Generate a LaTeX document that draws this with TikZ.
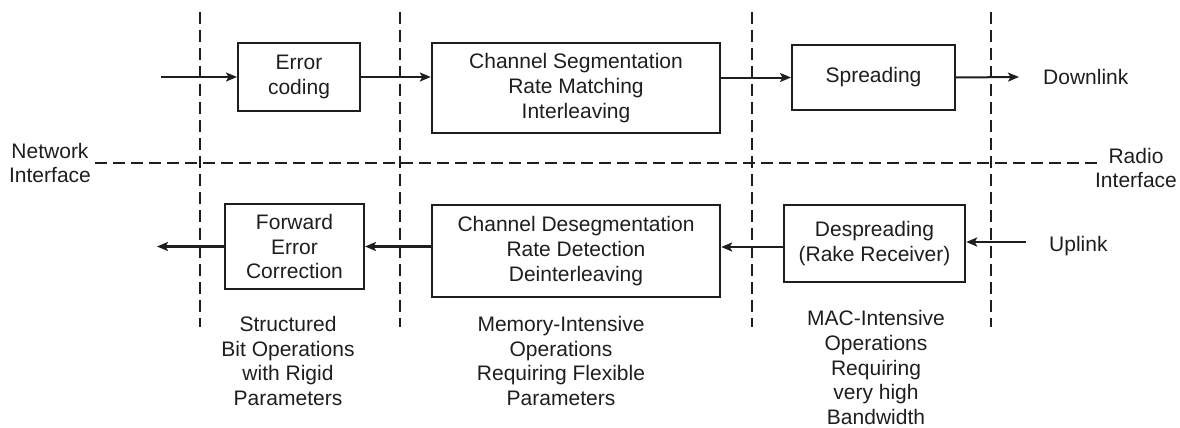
\documentclass[tikz,border=0pt]{standalone}
\usepackage{fontspec}
\setmainfont{Liberation Sans}
\usetikzlibrary{arrows.meta}
\definecolor{ink}{RGB}{30,30,30}
\begin{document}
\begin{tikzpicture}[x=1pt,y=-1pt,
  font=\fontsize{21}{24.6}\selectfont, text=ink,
  blk/.style={draw=ink, line width=2pt, align=center, inner sep=0pt},
  thickblk/.style={blk, line width=2.4pt},
  sep/.style={draw=ink, dash pattern=on 12pt off 6pt, line width=1.8pt},
  flow/.style={draw=ink, -{Stealth[length=11pt,width=9pt,inset=2.5pt]}, line width=2pt},
  flowb/.style={draw=ink, -{Stealth[length=11pt,width=9pt,inset=2.5pt]}, line width=2.6pt},
  lbl/.style={align=center, inner sep=0pt}]
\useasboundingbox (0,0) rectangle (1180,428);

% section separators
\draw[sep] (200,12) -- (200,327);
\draw[sep] (400,12) -- (400,327);
\draw[sep] (752,12) -- (752,327);
\draw[sep] (991,12) -- (991,327);
\draw[sep] (95,163) -- (1097,163);

% downlink chain
\node[blk, minimum width=122pt, minimum height=68pt] (ec) at (299,77) {Error\\coding};
\node[thickblk, minimum width=288pt, minimum height=90pt] (cs) at (576,88) {Channel Segmentation\\Rate Matching\\Interleaving};
\node[blk, minimum width=163pt, minimum height=65pt] (sp) at (873.5,77.5) {Spreading};

% uplink chain
\node[blk, minimum width=139pt, minimum height=85pt] (fec) at (294.5,246.5) {Forward\\Error\\Correction};
\node[thickblk, minimum width=288pt, minimum height=92pt] (ds) at (576,251) {Channel Desegmentation\\Rate Detection\\Deinterleaving};
\node[thickblk, minimum width=181pt, minimum height=77pt] (dsp) at (874.5,243.5) {Despreading\\(Rake Receiver)};

% free ends of the signal paths
\coordinate (din) at (161,77);
\coordinate (dout) at (1019,77);
\coordinate (uin) at (1026,242);
\coordinate (uout) at (157,246.5);
\coordinate (dspw) at (dsp.west |- 0,247);

\draw[flow] (din) -- (ec.west);
\draw[flow] (ec.east) -- (ec.east -| cs.west);
\draw[flow] (cs.east |- sp.west) -- (sp.west);
\draw[flow] (sp.east) -- (dout);

\draw[flowb] (uin) -- (uin -| dsp.east);
\draw[flowb] (dspw) -- (dspw -| ds.east);
\draw[flowb] (ds.west |- fec.east) -- (fec.east);
\draw[flowb] (fec.west) -- (uout);

% labels
\node[anchor=west, inner sep=0pt] (dl) at (1043,77) {Downlink};
\node[anchor=west, inner sep=0pt] (ul) at (1049,246) {Uplink};
\node[lbl] (ni) at (50,163) {Network\\Interface};
\node[lbl] (ri) at (1136,168) {Radio\\Interface};
\node[lbl] (c1) at (288,361) {Structured\\Bit Operations\\with Rigid\\Parameters};
\node[lbl] (c2) at (561,361) {Memory-Intensive\\Operations\\Requiring Flexible\\Parameters};
\node[lbl] (c3) at (876,367.5) {MAC-Intensive\\Operations\\Requiring\\very high\\Bandwidth};
\end{tikzpicture}
\end{document}
